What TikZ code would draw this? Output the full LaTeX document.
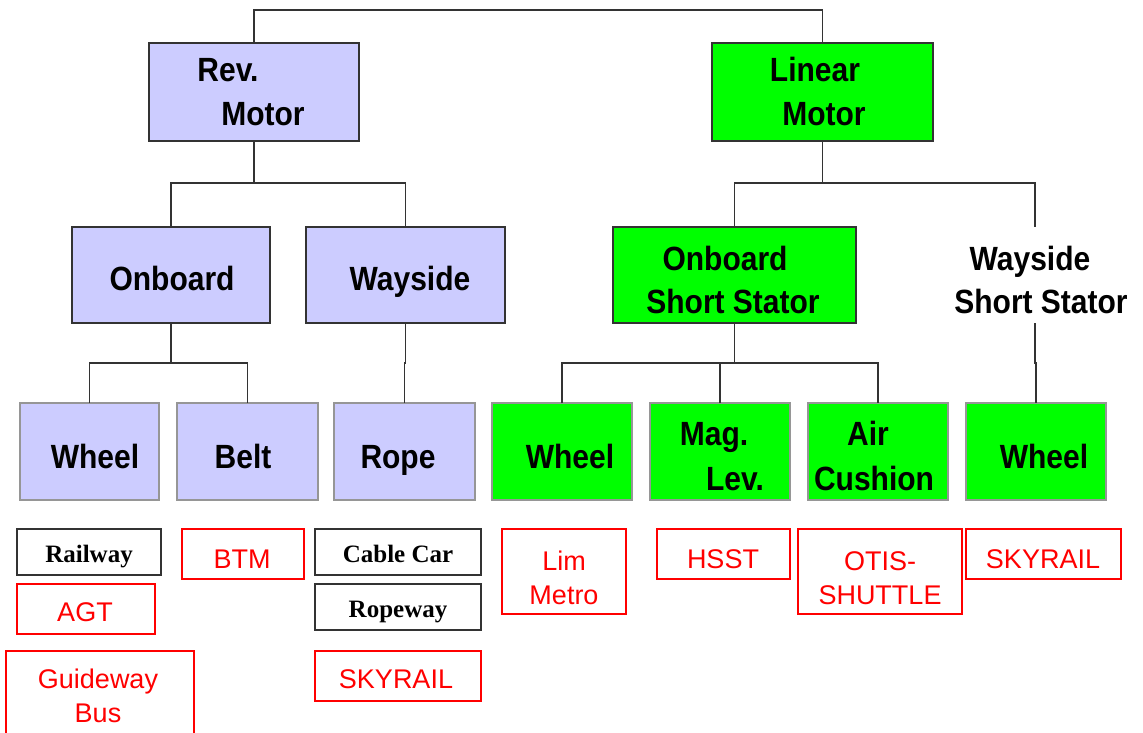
\documentclass[tikz,border=0pt]{standalone}
\usepackage{fontspec}
\usepackage{graphicx}
\setmainfont{Liberation Sans}
\newfontfamily\tnr{Liberation Serif}
\definecolor{lblue}{RGB}{204,204,255}
\definecolor{lgreen}{RGB}{0,255,0}
\definecolor{edgedark}{RGB}{51,51,51}
\definecolor{edgegray}{RGB}{150,150,150}
\definecolor{redc}{RGB}{255,0,0}
\newcommand{\tallT}[1]{\scalebox{1}[1.12]{#1}}
\tikzset{
  conn/.style={draw=edgedark, line width=1.3pt},
  bx/.style={anchor=north west, inner sep=0pt, outer sep=0pt},
  topbox/.style={bx, draw=edgedark, line width=1.5pt},
  leafbox/.style={bx, draw=edgegray, line width=1.5pt},
  redbox/.style={bx, draw=redc, line width=1.3pt},
  blkbox/.style={bx, draw=edgedark, line width=1.8pt},
  lbl/.style={anchor=base, inner sep=0pt, font=\bfseries\fontsize{30}{30}\selectfont},
  rt/.style={anchor=base, inner sep=0pt, text=redc, font=\fontsize{27}{27}\selectfont},
  st/.style={anchor=base, inner sep=0pt, font=\tnr\bfseries\fontsize{25}{25}\selectfont},
}
\begin{document}
\begin{tikzpicture}[x=1pt,y=-1pt]
\clip (0,0) rectangle (1143,732);
\fill[white] (0,0) rectangle (1143,732);
% level 1
\node[topbox, fill=lblue, minimum width=210pt, minimum height=98pt] (rev) at (149,43) {};
\node[topbox, fill=lgreen, minimum width=221pt, minimum height=98pt] (lin) at (712,43) {};
% level 2
\node[topbox, fill=lblue, minimum width=198pt, minimum height=96pt] (onb) at (72,227) {};
\node[topbox, fill=lblue, minimum width=199pt, minimum height=96pt] (way) at (306,227) {};
\node[topbox, fill=lgreen, minimum width=243pt, minimum height=96pt] (oss) at (613,227) {};
\node[bx, minimum width=200pt, minimum height=96pt] (wss) at (935,227) {};
% level 3
\node[leafbox, fill=lblue, minimum width=139pt, minimum height=97pt] (w1) at (20,403) {};
\node[leafbox, fill=lblue, minimum width=141pt, minimum height=97pt] (belt) at (177,403) {};
\node[leafbox, fill=lblue, minimum width=141pt, minimum height=97pt] (rope) at (334,403) {};
\node[leafbox, fill=lgreen, minimum width=140pt, minimum height=97pt] (gw) at (492,403) {};
\node[leafbox, fill=lgreen, minimum width=140pt, minimum height=97pt] (mag) at (650,403) {};
\node[leafbox, fill=lgreen, minimum width=140pt, minimum height=97pt] (air) at (808,403) {};
\node[leafbox, fill=lgreen, minimum width=140pt, minimum height=97pt] (ww) at (966,403) {};
% junctions
\coordinate (t) at (538,10);
\coordinate (j1) at (254,183);
\coordinate (j2) at (822.5,183);
\coordinate (j3) at (171,363);
\coordinate (j4) at (734.5,363);
% connectors
\draw[conn] (rev.north) |- (t) -| (lin.north);
\draw[conn] (rev.south) -- (j1);
\draw[conn] (onb.north) |- (j1) -| (way.north);
\draw[conn] (lin.south) -- (j2);
\draw[conn] (oss.north) |- (j2) -| (wss.north);
\draw[conn] (onb.south) -- (j3);
\draw[conn] (w1.north) |- (j3) -| (belt.north);
\draw[conn] (way.south) -- (way.south |- j3) -| (rope.north);
\draw[conn] (oss.south) -- (j4);
\draw[conn] (gw.north) |- (j4) -| (air.north);
\draw[conn] (mag.north) -- (mag.north |- j4);
\draw[conn] (wss.south) -- (wss.south |- j3) -| (ww.north);
% labels of boxes
\node[lbl] (trev1) at (228,81) {\tallT{Rev.}};
\node[lbl] (trev2) at (263,125) {\tallT{Motor}};
\node[lbl] (tlin1) at (815,81) {\tallT{Linear}};
\node[lbl] (tlin2) at (824,125) {\tallT{Motor}};
\node[lbl] (tonb) at (172,290) {\tallT{Onboard}};
\node[lbl] (tway) at (410,290) {\tallT{Wayside}};
\node[lbl] (toss1) at (725,270) {\tallT{Onboard}};
\node[lbl] (toss2) at (733,313) {\tallT{Short Stator}};
\node[lbl] (twss1) at (1030,270) {\tallT{Wayside}};
\node[lbl] (twss2) at (1041,313) {\tallT{Short Stator}};
\node[lbl] (tw1) at (95,468) {\tallT{Wheel}};
\node[lbl] (tbelt) at (243,468) {\tallT{Belt}};
\node[lbl] (trope) at (398,468) {\tallT{Rope}};
\node[lbl] (tgw) at (570,468) {\tallT{Wheel}};
\node[lbl] (tmag1) at (714,445) {\tallT{Mag.}};
\node[lbl] (tmag2) at (735,490) {\tallT{Lev.}};
\node[lbl] (tair1) at (868,445) {\tallT{Air}};
\node[lbl] (tair2) at (874,490) {\tallT{Cushion}};
\node[lbl] (tww) at (1044,468) {\tallT{Wheel}};
% examples
\node[blkbox, minimum width=144pt, minimum height=46pt] (rail) at (17,529) {};
\node[redbox, minimum width=138pt, minimum height=50pt] (agt) at (17,584) {};
\node[redbox, minimum width=188pt, minimum height=100pt] (gb) at (6,651) {};
\node[redbox, minimum width=122pt, minimum height=50pt] (btm) at (182,529) {};
\node[blkbox, minimum width=166pt, minimum height=46pt] (cab) at (315,529) {};
\node[blkbox, minimum width=166pt, minimum height=46pt] (ropew) at (315,584) {};
\node[redbox, minimum width=166pt, minimum height=50pt] (sky1) at (315,651) {};
\node[redbox, minimum width=124pt, minimum height=85pt] (lim) at (502,529) {};
\node[redbox, minimum width=133pt, minimum height=50pt] (hsst) at (657,529) {};
\node[redbox, minimum width=164pt, minimum height=85pt] (otis) at (798,529) {};
\node[redbox, minimum width=155pt, minimum height=50pt] (sky2) at (966,529) {};
\node[st] (trail) at (89,562) {Railway};
\node[st] (tcab) at (398,562) {Cable Car};
\node[st] (tropew) at (398,617) {Ropeway};
\node[rt] (tagt) at (85,621) {AGT};
\node[rt] (tgb1) at (98,688) {Guideway};
\node[rt] (tgb2) at (98,722) {Bus};
\node[rt] (tbtm) at (242,568) {BTM};
\node[rt] (tsky1) at (396,688) {SKYRAIL};
\node[rt] (tlim1) at (564,570) {Lim};
\node[rt] (tlim2) at (564,604) {Metro};
\node[rt] (thsst) at (723,568) {HSST};
\node[rt] (totis1) at (880,570) {OTIS-};
\node[rt] (totis2) at (880,604) {SHUTTLE};
\node[rt] (tsky2) at (1043,568) {SKYRAIL};
\end{tikzpicture}
\end{document}
